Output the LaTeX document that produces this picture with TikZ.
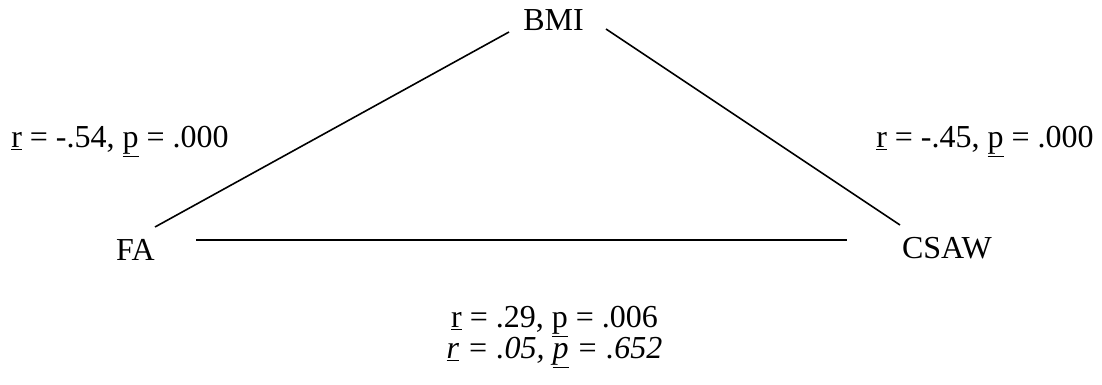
\documentclass[tikz,border=0pt]{standalone}
\usepackage{fontspec}
\setmainfont{Liberation Serif}
\begin{document}
\begin{tikzpicture}[x=1pt,y=1pt,
  lbl/.style={font=\fontsize{32}{36}\selectfont, inner sep=0pt, anchor=base},
  edge/.style={line width=1.6pt}]
\useasboundingbox (0,0) rectangle (1102,385);
\node[lbl] (BMI) at (553.5,354) {BMI};
\node[lbl] (FA) at (135.5,124) {FA};
\node[lbl] (CSAW) at (947,126) {CSAW};
\node[lbl] (rl) at (120,237) {\underline{r} = -.54, \underline{p} = .000};
\node[lbl] (rr) at (985,237) {\underline{r} = -.45, \underline{p} = .000};
\node[lbl] (rb1) at (554.5,57) {\underline{r} = .29, \underline{p} = .006};
\node[lbl] (rb2) at (554.5,26) {\textit{\underline{r} = .05, \underline{p} = .652}};
\coordinate (a1) at (155,158);
\coordinate (a2) at (509,353);
\coordinate (b1) at (606,356);
\coordinate (b2) at (900,160);
\coordinate (c1) at (196,145);
\coordinate (c2) at (847,145);
\draw[edge] (a1) -- (a2);
\draw[edge] (b1) -- (b2);
\draw[line width=2.2pt] (c1) -- (c2);
\end{tikzpicture}
\end{document}
